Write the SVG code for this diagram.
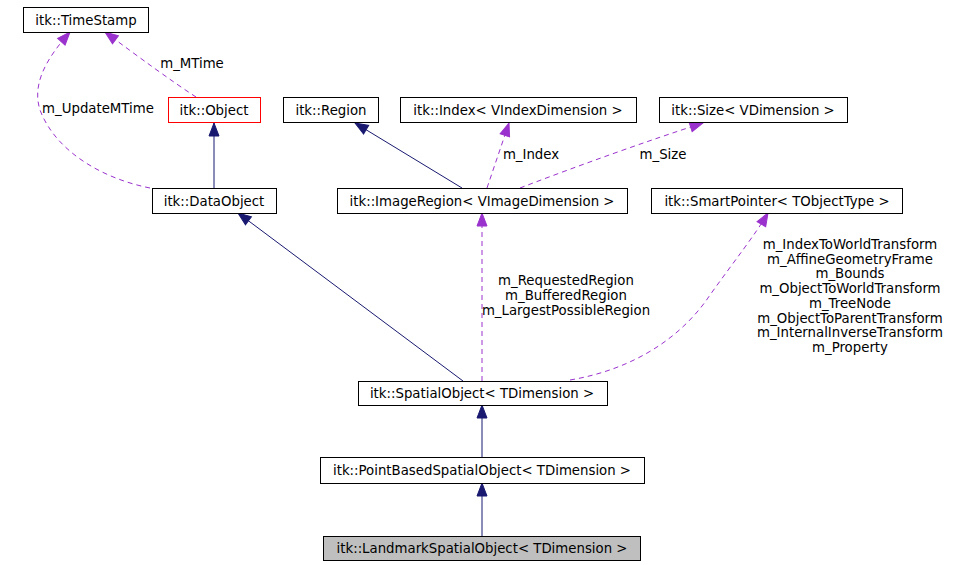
<svg xmlns="http://www.w3.org/2000/svg" width="971" height="565" viewBox="0 0 971 565">
<style>
.n rect{fill:#fff;stroke:#000;stroke-width:1}
.n text,.lbl{font-family:"DejaVu Sans",sans-serif;font-size:13.3px;fill:#000;text-anchor:middle}
.inh{fill:none;stroke:#191970;stroke-width:1}
.use{fill:none;stroke:#9a32cd;stroke-width:1;stroke-dasharray:5,4}
</style>
<defs>
<marker id="aN" markerUnits="userSpaceOnUse" markerWidth="14" markerHeight="11" refX="13" refY="5" orient="auto" overflow="visible">
<path d="M0,0 L13,5 L0,10 z" fill="#191970" stroke="#191970"/>
</marker>
<marker id="aP" markerUnits="userSpaceOnUse" markerWidth="14" markerHeight="11" refX="13" refY="5" orient="auto" overflow="visible">
<path d="M0,0 L13,5 L0,10 z" fill="#9a32cd" stroke="#9a32cd"/>
</marker>
</defs>
<rect width="971" height="565" fill="#fff"/>
<g id="edges">
<path class="inh" d="M214,188 L214,123" marker-end="url(#aN)"/>
<path class="use" d="M196,97 C170,80 140,58 105,32" marker-end="url(#aP)"/>
<path class="use" d="M150,188 C100,178 55,150 40,110 C32,85 45,60 70,32" marker-end="url(#aP)"/>
<path class="inh" d="M462,188 L355,123" marker-end="url(#aN)"/>
<path class="use" d="M487,188 L509,123" marker-end="url(#aP)"/>
<path class="use" d="M520,188 C580,165 650,140 703,123" marker-end="url(#aP)"/>
<path class="use" d="M482,381 L482,213" marker-end="url(#aP)"/>
<path class="inh" d="M463,381 L238,213" marker-end="url(#aN)"/>
<path class="use" d="M570,380 C630,370 680,340 710,295 C735,260 755,235 768,213" marker-end="url(#aP)"/>
<path class="inh" d="M482,457 L482,405" marker-end="url(#aN)"/>
<path class="inh" d="M482,536 L482,483" marker-end="url(#aN)"/>
<text class="lbl" x="192" y="68">m_MTime</text>
<text class="lbl" x="98" y="113">m_UpdateMTime</text>
<text class="lbl" x="531" y="159">m_Index</text>
<text class="lbl" x="663" y="159">m_Size</text>
<text class="lbl" x="566" y="285">m_RequestedRegion</text>
<text class="lbl" x="566" y="300">m_BufferedRegion</text>
<text class="lbl" x="566" y="315">m_LargestPossibleRegion</text>
<text class="lbl" x="850" y="249">m_IndexToWorldTransform</text>
<text class="lbl" x="850" y="264">m_AffineGeometryFrame</text>
<text class="lbl" x="850" y="278">m_Bounds</text>
<text class="lbl" x="850" y="293">m_ObjectToWorldTransform</text>
<text class="lbl" x="850" y="308">m_TreeNode</text>
<text class="lbl" x="850" y="323">m_ObjectToParentTransform</text>
<text class="lbl" x="850" y="337">m_InternalInverseTransform</text>
<text class="lbl" x="850" y="352">m_Property</text>
</g>
<g id="TimeStamp" class="n"><rect x="23.5" y="7.5" width="125" height="25"/><text x="86" y="25">itk::TimeStamp</text></g>
<g id="Object" class="n"><rect x="168.5" y="97.5" width="92" height="25" style="stroke:#ff0000"/><text x="214" y="115">itk::Object</text></g>
<g id="DataObject" class="n"><rect x="152.5" y="188.5" width="124" height="25"/><text x="214" y="206">itk::DataObject</text></g>
<g id="Region" class="n"><rect x="283.5" y="97.5" width="95" height="25"/><text x="331" y="115">itk::Region</text></g>
<g id="Index" class="n"><rect x="400.5" y="97.5" width="236" height="25"/><text x="518" y="115">itk::Index&lt; VIndexDimension &gt;</text></g>
<g id="Size" class="n"><rect x="659.5" y="97.5" width="188" height="25"/><text x="753" y="115">itk::Size&lt; VDimension &gt;</text></g>
<g id="ImageRegion" class="n"><rect x="337.5" y="188.5" width="290" height="25"/><text x="482" y="206">itk::ImageRegion&lt; VImageDimension &gt;</text></g>
<g id="SmartPointer" class="n"><rect x="651.5" y="188.5" width="251" height="25"/><text x="777" y="206">itk::SmartPointer&lt; TObjectType &gt;</text></g>
<g id="SpatialObject" class="n"><rect x="358.5" y="381.5" width="249" height="24"/><text x="482" y="398">itk::SpatialObject&lt; TDimension &gt;</text></g>
<g id="PointBasedSpatialObject" class="n"><rect x="320.5" y="457.5" width="324" height="26"/><text x="482" y="475">itk::PointBasedSpatialObject&lt; TDimension &gt;</text></g>
<g id="LandmarkSpatialObject" class="n"><rect x="323.5" y="536.5" width="317" height="24" style="fill:#bfbfbf"/><text x="482" y="553">itk::LandmarkSpatialObject&lt; TDimension &gt;</text></g>
</svg>
